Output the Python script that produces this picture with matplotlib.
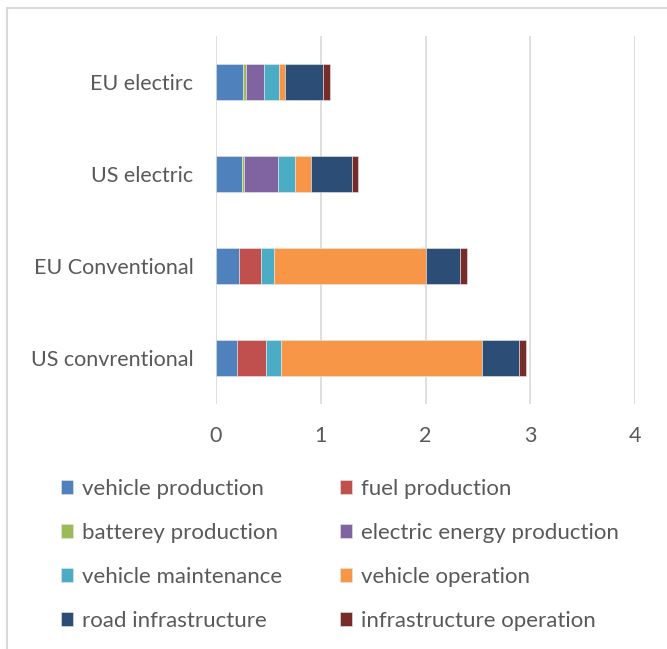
import numpy as np
import matplotlib.pyplot as plt
from matplotlib.patches import Rectangle, Patch

plt.rcParams['font.family'] = ['Lato', 'DejaVu Sans']

cases = ["US convrentional", "EU Conventional", "US electric", "EU electirc"]

stages = ["vehicle production", "fuel production", "batterey production",
          "electric energy production", "vehicle maintenance", "vehicle operation",
          "road infrastructure", "infrastructure operation"]

# one list per stage, in the order of cases
vehicle_production = [0.20, 0.225, 0.25, 0.263]
fuel_production = [0.283, 0.21, 0.0, 0.0]
battery_production = [0.0, 0.0, 0.022, 0.022]
electric_energy = [0.0, 0.0, 0.321, 0.172]
vehicle_maintenance = [0.137, 0.121, 0.162, 0.150]
vehicle_operation = [1.916, 1.446, 0.155, 0.057]
road_infrastructure = [0.356, 0.327, 0.391, 0.357]
infrastructure_operation = [0.064, 0.064, 0.06, 0.07]

series = [vehicle_production, fuel_production, battery_production, electric_energy,
          vehicle_maintenance, vehicle_operation, road_infrastructure,
          infrastructure_operation]

colors = ["#4F81BD", "#C0504D", "#9BBB59", "#8064A2",
          "#4BACC6", "#F79646", "#2C4D75", "#772C2A"]

txt = "#595959"

fig = plt.figure(figsize=(6.67, 6.49), dpi=100)
ax = fig.add_axes([215.7/667, 245/649, 419.6/667, 368/649])

y = np.arange(len(cases))
left = np.zeros(len(cases))
for vals, c in zip(series, colors):
    vals = np.array(vals)
    ax.barh(y, vals, left=left, height=0.39, color=c, zorder=3,
            edgecolor="#e8e8e8", linewidth=0.4)
    left += vals

ax.set_xlim(0, 4)
ax.set_ylim(-0.5, 3.5)
ax.set_xticks([0, 1, 2, 3, 4])
ax.set_yticks(y)
ax.set_yticklabels(cases)
ax.grid(axis="x", color="#d9d9d9", linewidth=1.2, zorder=0)
for s in ax.spines.values():
    s.set_visible(False)
ax.tick_params(axis="both", length=0, labelsize=15.5, labelcolor=txt)
ax.tick_params(axis="x", pad=16)
ax.tick_params(axis="y", pad=16)

# legend fills column by column, so interleave to read across rows
order = [0, 2, 4, 6, 1, 3, 5, 7]
handles = [Patch(facecolor=colors[i], edgecolor="#e8e8e8", linewidth=0.4) for i in order]
labels = [stages[i] for i in order]
fig.legend(handles, labels, loc="upper left", bbox_to_anchor=(41/667, 1 - 459/649),
           ncol=2, frameon=False, fontsize=16, labelcolor=txt,
           handlelength=0.55, handleheight=0.55, handletextpad=0.4,
           columnspacing=2.58, labelspacing=1.08)

# outer chart border
fig.patches.append(Rectangle((7/667, -0.01), 1.0, 1 - 8/649 + 0.01,
                             transform=fig.transFigure, fill=False,
                             edgecolor="#d9d9d9", linewidth=1.5))

fig.savefig("out.png", dpi=100)
